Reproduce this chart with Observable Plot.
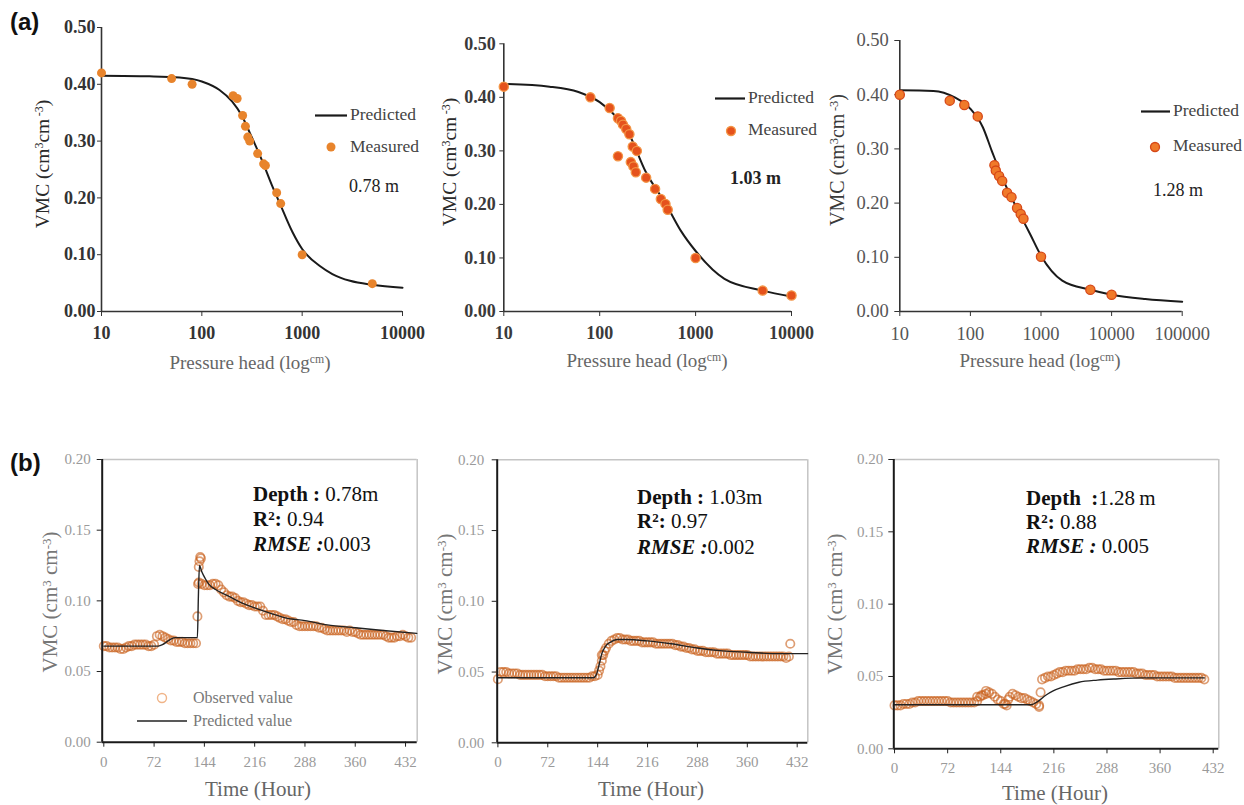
<!DOCTYPE html>
<html><head><meta charset="utf-8">
<script src="https://cdn.jsdelivr.net/npm/d3@7"></script>
<script src="https://cdn.jsdelivr.net/npm/@observablehq/plot@0.6"></script>
<style>
body{margin:0;background:#fff;}
#root{position:relative;width:1244px;height:805px;overflow:hidden;background:#fff;font-family:'Liberation Serif','Times New Roman',serif;}
.t{position:absolute;white-space:nowrap;line-height:1;}
.t sup{font-size:0.62em;vertical-align:0;position:relative;top:-0.5em;}
.sw{position:absolute;line-height:0;}
.sw svg{display:block;overflow:visible;}
</style></head><body><div id="root"></div><script>
// ---------- (a) retention curves ----------
const vmcTicksA = [0, 0.1, 0.2, 0.3, 0.4, 0.5];
const headTicksA1 = [10, 100, 1000, 10000];
const headTicksA3 = [10, 100, 1000, 10000, 100000];

const predHeadA1 = [10, 30, 60, 100, 150, 200, 250, 300, 400, 500, 600, 800, 1000, 1500, 2000, 3000, 5000, 10000];
const predVmcA1  = [0.415, 0.414, 0.412, 0.405, 0.39, 0.37, 0.345, 0.315, 0.265, 0.222, 0.19, 0.14, 0.11, 0.08, 0.066, 0.054, 0.047, 0.042];
const measHeadA1 = [10, 50, 80, 205, 225, 255, 272, 287, 300, 360, 413, 430, 557, 611, 1000, 5000];
const measVmcA1  = [0.42, 0.41, 0.40, 0.38, 0.375, 0.345, 0.326, 0.307, 0.30, 0.278, 0.26, 0.257, 0.209, 0.19, 0.10, 0.049];

const predHeadA2 = [10, 30, 60, 100, 150, 200, 300, 500, 700, 1000, 2000, 5000, 10000];
const predVmcA2  = [0.425, 0.42, 0.41, 0.391, 0.363, 0.333, 0.262, 0.198, 0.151, 0.113, 0.061, 0.039, 0.028];
const measHeadA2 = [10, 80, 127, 155, 167, 175, 189, 204, 155, 211, 225, 238, 221, 244, 305, 378, 434, 485, 512, 1000, 5000, 10000];
const measVmcA2  = [0.42, 0.40, 0.38, 0.361, 0.356, 0.349, 0.341, 0.331, 0.29, 0.279, 0.271, 0.26, 0.308, 0.30, 0.25, 0.229, 0.21, 0.201, 0.19, 0.10, 0.039, 0.03];

const predHeadA3 = [10, 30, 60, 100, 150, 200, 300, 500, 700, 1000, 2000, 5000, 10000, 30000, 100000];
const predVmcA3  = [0.408, 0.407, 0.395, 0.374, 0.34, 0.297, 0.239, 0.18, 0.143, 0.103, 0.057, 0.04, 0.031, 0.023, 0.018];
const measHeadA3 = [10, 51, 82, 127, 219, 229, 255, 282, 331, 382, 458, 516, 564, 1000, 5000, 10000];
const measVmcA3  = [0.40, 0.389, 0.381, 0.36, 0.27, 0.26, 0.25, 0.241, 0.219, 0.211, 0.191, 0.18, 0.171, 0.101, 0.04, 0.031];

// ---------- (b) time series ----------
const vmcTicksB = [0, 0.05, 0.1, 0.15, 0.2];
const hourTicks = [0, 72, 144, 216, 288, 360, 432];
const obsStepHours = 4;

const obsB1 = [
0.068,0.068,0.067,0.067,0.067,0.067,0.066,0.066,0.067,0.068,
0.068,0.069,0.069,0.069,0.069,0.069,0.068,0.068,0.069,0.075,
0.076,0.075,0.074,0.073,0.072,0.072,0.071,0.071,0.071,0.070,
0.070,0.070,0.070,0.070,0.113,0.112,0.111,0.111,0.111,0.112,
0.112,0.111,0.108,0.106,0.104,0.103,0.103,0.102,0.100,0.099,
0.099,0.098,0.097,0.097,0.096,0.096,0.096,0.093,0.090,0.090,
0.090,0.090,0.089,0.088,0.087,0.087,0.086,0.085,0.085,0.083,
0.082,0.082,0.082,0.082,0.082,0.082,0.082,0.081,0.081,0.080,
0.079,0.079,0.079,0.079,0.079,0.079,0.079,0.078,0.079,0.078,
0.078,0.077,0.076,0.076,0.076,0.076,0.076,0.076,0.076,0.076,
0.076,0.075,0.074,0.074,0.074,0.075,0.075,0.076,0.075,0.074,0.074];
const extraHourB1 = [134, 135, 136, 137, 138, 139];
const extraObsB1  = [0.089, 0.112, 0.124, 0.128, 0.131, 0.130];
const predHourB1 = [0, 78, 84, 90, 96, 103, 134, 135.5, 137, 140, 145, 150, 160, 180, 200, 216, 240, 260, 288, 320, 360, 400, 448];
const predVmcB1  = [0.068, 0.068, 0.069, 0.071, 0.073, 0.074, 0.074, 0.105, 0.125, 0.121, 0.116, 0.112, 0.108, 0.103, 0.098, 0.095, 0.091, 0.088, 0.086, 0.083, 0.081, 0.079, 0.077];

const obsB2 = [
0.045,0.050,0.050,0.050,0.049,0.049,0.049,0.049,0.048,0.048,
0.048,0.048,0.048,0.048,0.048,0.048,0.048,0.047,0.047,0.047,
0.047,0.047,0.046,0.046,0.046,0.046,0.046,0.046,0.046,0.046,
0.046,0.046,0.046,0.046,0.047,0.047,0.048,0.054,0.062,0.067,
0.070,0.072,0.073,0.074,0.074,0.073,0.073,0.073,0.072,0.072,
0.072,0.072,0.071,0.071,0.071,0.071,0.071,0.070,0.070,0.070,
0.070,0.070,0.070,0.070,0.069,0.069,0.068,0.068,0.067,0.067,
0.066,0.066,0.065,0.065,0.065,0.064,0.064,0.064,0.064,0.063,
0.063,0.063,0.063,0.063,0.062,0.062,0.062,0.062,0.062,0.062,
0.062,0.061,0.061,0.061,0.061,0.061,0.061,0.061,0.061,0.061,
0.061,0.061,0.061,0.061,0.060,0.061];
const extraHourB2 = [146, 150, 150, 154, 422];
const extraObsB2  = [0.051, 0.058, 0.062, 0.065, 0.070];
const predHourB2 = [0, 138, 142, 146, 150, 155, 162, 172, 185, 216, 250, 288, 324, 360, 400, 447];
const predVmcB2  = [0.046, 0.046, 0.048, 0.055, 0.063, 0.068, 0.071, 0.073, 0.073, 0.072, 0.070, 0.067, 0.065, 0.064, 0.063, 0.063];

const obsB3 = [
0.030,0.030,0.030,0.031,0.031,0.031,0.032,0.032,0.033,0.033,
0.033,0.033,0.033,0.033,0.033,0.033,0.033,0.033,0.033,0.032,
0.032,0.032,0.032,0.032,0.032,0.032,0.032,0.032,0.033,0.036,
0.037,0.038,0.039,0.038,0.036,0.034,0.033,0.031,0.030,0.036,
0.038,0.037,0.036,0.035,0.035,0.034,0.033,0.032,0.031,0.030,
0.048,0.049,0.050,0.050,0.051,0.052,0.053,0.053,0.054,0.054,
0.054,0.054,0.055,0.055,0.055,0.055,0.056,0.056,0.055,0.055,
0.055,0.054,0.054,0.054,0.054,0.054,0.053,0.053,0.053,0.053,
0.053,0.053,0.052,0.052,0.052,0.051,0.051,0.051,0.051,0.050,
0.050,0.050,0.050,0.050,0.050,0.049,0.049,0.049,0.049,0.049,
0.049,0.049,0.049,0.049,0.049,0.048];
const extraHourB3 = [112, 118, 124, 150, 154, 196, 198];
const extraObsB3  = [0.036, 0.037, 0.040, 0.031, 0.034, 0.029, 0.039];
const predHourB3 = [0, 185, 195, 205, 215, 230, 250, 275, 300, 340, 420];
const predVmcB3  = [0.0305, 0.0305, 0.033, 0.037, 0.040, 0.043, 0.046, 0.0475, 0.0483, 0.049, 0.049];

const root = document.getElementById('root');
const SERIF = "'Liberation Serif','Times New Roman',serif";

function place(svg, left, top) {
  svg.style.position = 'absolute';
  svg.style.left = left + 'px';
  svg.style.top = top + 'px';
  root.appendChild(svg);
}
function txt(html, x, y, o = {}) {
  const d = document.createElement('div');
  d.className = 't';
  d.innerHTML = html;
  d.style.left = x + 'px';
  d.style.top = y + 'px';
  d.style.fontSize = (o.size || 16) + 'px';
  d.style.color = o.color || '#333';
  d.style.fontFamily = o.family || SERIF;
  if (o.weight) d.style.fontWeight = o.weight;
  if (o.align === 'center') d.style.transform = 'translate(-50%,-50%)';
  else if (o.align === 'rot') d.style.transform = 'translate(-50%,-50%) rotate(-90deg)';
  else d.style.transform = 'translate(0,-50%)';
  root.appendChild(d);
  return d;
}
// legend swatch centred on (cx, cy)
function swatch(svgInner, cx, cy, w, h) {
  const d = document.createElement('div');
  d.className = 'sw';
  d.style.left = (cx - w / 2) + 'px';
  d.style.top = (cy - h / 2) + 'px';
  d.innerHTML = `<svg width="${w}" height="${h}" viewBox="0 0 ${w} ${h}">${svgInner}</svg>`;
  root.appendChild(d);
}

function retentionPanel(c) {
  const curve = c.head.map((h, i) => ({h, v: c.pred[i]}));
  const meas = c.mHead.map((h, i) => ({h, v: c.mVmc[i]}));
  return Plot.plot({
    width: c.width, height: 350,
    marginLeft: c.ml, marginRight: c.mr, marginTop: c.mt, marginBottom: 39,
    style: {fontFamily: SERIF, fontSize: c.fs + 'px', color: c.textColor, background: 'transparent', overflow: 'visible'},
    x: {type: 'log', domain: c.xDomain},
    y: {domain: [0, 0.5]},
    marks: [
      Plot.axisY({ticks: vmcTicksA, tickFormat: d3.format('.2f'), tickSize: c.yTick, tickPadding: c.yPad, label: null, fontWeight: c.fw, stroke: '#333'}),
      Plot.axisX({ticks: c.xTicks, tickFormat: d => String(d), tickSize: 5, tickPadding: 10, label: null, fontWeight: c.fw, stroke: '#333'}),
      Plot.ruleX([c.xDomain[0]], {stroke: '#333', strokeWidth: 1.6}),
      Plot.ruleY([0], {stroke: '#333', strokeWidth: 1.6}),
      Plot.line(curve, {x: 'h', y: 'v', curve: 'monotone-x', stroke: '#1a1a1a', strokeWidth: 2}),
      Plot.dot(meas, {x: 'h', y: 'v', r: c.r, fill: c.dotFill, stroke: c.dotStroke, strokeWidth: c.dotSW})
    ]
  });
}

function timePanel(c) {
  const obs = c.obs.map((v, i) => ({t: i * obsStepHours, v}))
    .concat(c.extraT.map((t, i) => ({t, v: c.extraV[i]})));
  const pred = c.predT.map((t, i) => ({t, v: c.predV[i]}));
  return Plot.plot({
    width: c.width, height: c.height,
    marginLeft: c.ml, marginRight: c.mr, marginTop: c.mt, marginBottom: c.mb,
    style: {fontFamily: SERIF, fontSize: '15px', color: '#999', background: 'transparent', overflow: 'visible'},
    x: {domain: c.xDomain},
    y: {domain: [0, 0.2]},
    marks: [
      Plot.ruleX([c.xDomain[1]], {stroke: '#c4c4c4', strokeWidth: 1.5}),
      Plot.ruleY([0.2], {stroke: '#c4c4c4', strokeWidth: 1.5}),
      Plot.axisY({ticks: vmcTicksB, tickFormat: d3.format('.2f'), tickSize: 5, tickPadding: c.yPad, stroke: '#222', fill: '#9a9a9a', label: null}),
      Plot.axisX({ticks: hourTicks, tickFormat: d => String(d), tickSize: 5, tickPadding: 9, stroke: '#222', fill: '#9a9a9a', label: null}),
      Plot.dot(obs, {x: 't', y: 'v', r: 4.2, stroke: '#c9621f', strokeOpacity: 0.62, strokeWidth: 1.7, fill: 'none'}),
      Plot.line(pred, {x: 't', y: 'v', stroke: '#222', strokeWidth: 1.4, curve: 'monotone-x'}),
      Plot.ruleX([c.xDomain[0]], {stroke: '#1a1a1a', strokeWidth: 2}),
      Plot.ruleY([0], {stroke: '#1a1a1a', strokeWidth: 2})
    ]
  });
}

// (a) panels
place(retentionPanel({width: 420, ml: 101, mr: 18, mt: 27, fs: 18, fw: 'bold', textColor: '#333', yTick: 4, yPad: 2,
  xDomain: [10, 10000], xTicks: headTicksA1, head: predHeadA1, pred: predVmcA1, mHead: measHeadA1, mVmc: measVmcA1,
  r: 4.5, dotFill: '#e8842c', dotStroke: 'none', dotSW: 0}), 0, 0);
place(retentionPanel({width: 420, ml: 93.3, mr: 39, mt: 43.3, fs: 18, fw: 'bold', textColor: '#3a3a3a', yTick: 4, yPad: 4,
  xDomain: [10, 10000], xTicks: headTicksA1, head: predHeadA2, pred: predVmcA2, mHead: measHeadA2, mVmc: measVmcA2,
  r: 4.6, dotFill: '#e5521c', dotStroke: '#f39445', dotSW: 1.3}), 410, 0);
place(retentionPanel({width: 424, ml: 79.3, mr: 62.3, mt: 40, fs: 18.5, fw: 'normal', textColor: '#555', yTick: 5, yPad: 6,
  xDomain: [10, 100000], xTicks: headTicksA3, head: predHeadA3, pred: predVmcA3, mHead: measHeadA3, mVmc: measVmcA3,
  r: 4.6, dotFill: '#f07a2a', dotStroke: '#d64818', dotSW: 1.3}), 820, 0);

// (b) panels
place(timePanel({width: 420, height: 380, ml: 101.7, mr: 3.3, mt: 59, mb: 38.3, yPad: 6.5, xDomain: [-2.3, 448.7],
  obs: obsB1, extraT: extraHourB1, extraV: extraObsB1, predT: predHourB1, predV: predVmcB1}), 0, 400);
place(timePanel({width: 410, height: 380, ml: 76.7, mr: 22.7, mt: 59.3, mb: 37.7, yPad: 8, xDomain: [-1, 447.3],
  obs: obsB2, extraT: extraHourB2, extraV: extraObsB2, predT: predHourB2, predV: predVmcB2}), 420, 400);
place(timePanel({width: 424, height: 405, ml: 73.3, mr: 25.7, mt: 59, mb: 56.7, yPad: 5.5, xDomain: [-1, 439.6],
  obs: obsB3, extraT: extraHourB3, extraV: extraObsB3, predT: predHourB3, predV: predVmcB3}), 820, 400);

// panel letters
txt('(a)', 10, 22, {size: 24, weight: 'bold', color: '#111', family: "'Liberation Sans',Arial,sans-serif"});
txt('(b)', 10, 463, {size: 24, weight: 'bold', color: '#111', family: "'Liberation Sans',Arial,sans-serif"});

// (a) axis titles
const vmcA = 'VMC (cm<sup>3</sup>cm<sup>&#8201;-3</sup>)';
txt(vmcA, 43, 164, {size: 19.5, color: '#2a2a2a', align: 'rot'});
txt(vmcA, 450, 162, {size: 19.5, color: '#2a2a2a', align: 'rot'});
txt(vmcA, 837, 160, {size: 20, color: '#3a3a3a', align: 'rot'});
const headLbl = 'Pressure head (log<sup>cm</sup>)';
txt(headLbl, 250, 362, {size: 19, color: '#666', align: 'center'});
txt(headLbl, 647, 360, {size: 19, color: '#666', align: 'center'});
txt(headLbl, 1040, 360, {size: 19, color: '#666', align: 'center'});

// (a) legends
function legendA(lx0, lx1, ly, dotX, dotY, textX, my, depth, depthX, depthY, dotFill, dotStroke, depthWeight) {
  swatch(`<line x1="0" y1="1.5" x2="${lx1 - lx0}" y2="1.5" stroke="#1a1a1a" stroke-width="2.2"/>`, (lx0 + lx1) / 2, ly, lx1 - lx0, 3);
  txt('Predicted', textX, ly, {size: 17.5, color: '#444'});
  swatch(`<circle cx="6" cy="6" r="4.5" fill="${dotFill}" stroke="${dotStroke}" stroke-width="1.3"/>`, dotX, dotY, 12, 12);
  txt('Measured', textX, my, {size: 17.5, color: '#444'});
  txt(depth, depthX, depthY, {size: 18, color: '#222', weight: depthWeight});
}
legendA(315, 347, 115, 331, 147, 350, 147, '0.78 m', 349, 186, '#e8842c', 'none', 'normal');
legendA(715, 745, 98, 731, 131, 748, 130, '1.03 m', 730, 178, '#e5521c', '#f39445', 'bold');
legendA(1141, 1170, 111, 1155, 147, 1173, 146, '1.28 m', 1153, 190, '#f07a2a', '#d64818', 'normal');

// (b) axis titles
const vmcB = 'VMC (cm<sup>3</sup> cm<sup>-3</sup>)';
txt(vmcB, 50, 602, {size: 21, color: '#777', align: 'rot'});
txt(vmcB, 445, 604, {size: 21, color: '#777', align: 'rot'});
txt(vmcB, 835, 604, {size: 21, color: '#777', align: 'rot'});
txt('Time (Hour)', 258, 789, {size: 21, color: '#666', align: 'center'});
txt('Time (Hour)', 651, 789, {size: 21, color: '#666', align: 'center'});
txt('Time (Hour)', 1055, 793, {size: 21, color: '#666', align: 'center'});

// (b) legend in first panel
swatch(`<circle cx="6" cy="6" r="4.5" fill="none" stroke="#f0b488" stroke-width="1.4"/>`, 162, 698, 12, 12);
txt('Observed value', 193, 698, {size: 16, color: '#777'});
swatch(`<line x1="0" y1="1" x2="50" y2="1" stroke="#222" stroke-width="1.6"/>`, 162, 721, 50, 2);
txt('Predicted value', 193, 721, {size: 16, color: '#777'});

// (b) annotations
function stats(x, y0, y1, y2, depth, r2, rmse) {
  txt(`<b>Depth :</b> ${depth}`, x, y0, {size: 21, color: '#111'});
  txt(`<b>R<sup>2</sup>:</b> ${r2}`, x, y1, {size: 21, color: '#111'});
  txt(`<b><i>RMSE :</i></b>${rmse}`, x, y2, {size: 21, color: '#111'});
}
stats(253, 494, 519, 544, '0.78m', '0.94', '0.003');
stats(637, 497, 521, 547, '1.03m', '0.97', '0.002');
txt(`<b>Depth&nbsp; :</b>1.28&#8201;m`, 1026, 498, {size: 21, color: '#111'});
txt(`<b>R<sup>2</sup>:</b> 0.88`, 1026, 522, {size: 21, color: '#111'});
txt(`<b><i>RMSE :</i></b> 0.005`, 1026, 546, {size: 21, color: '#111'});
</script></body></html>
